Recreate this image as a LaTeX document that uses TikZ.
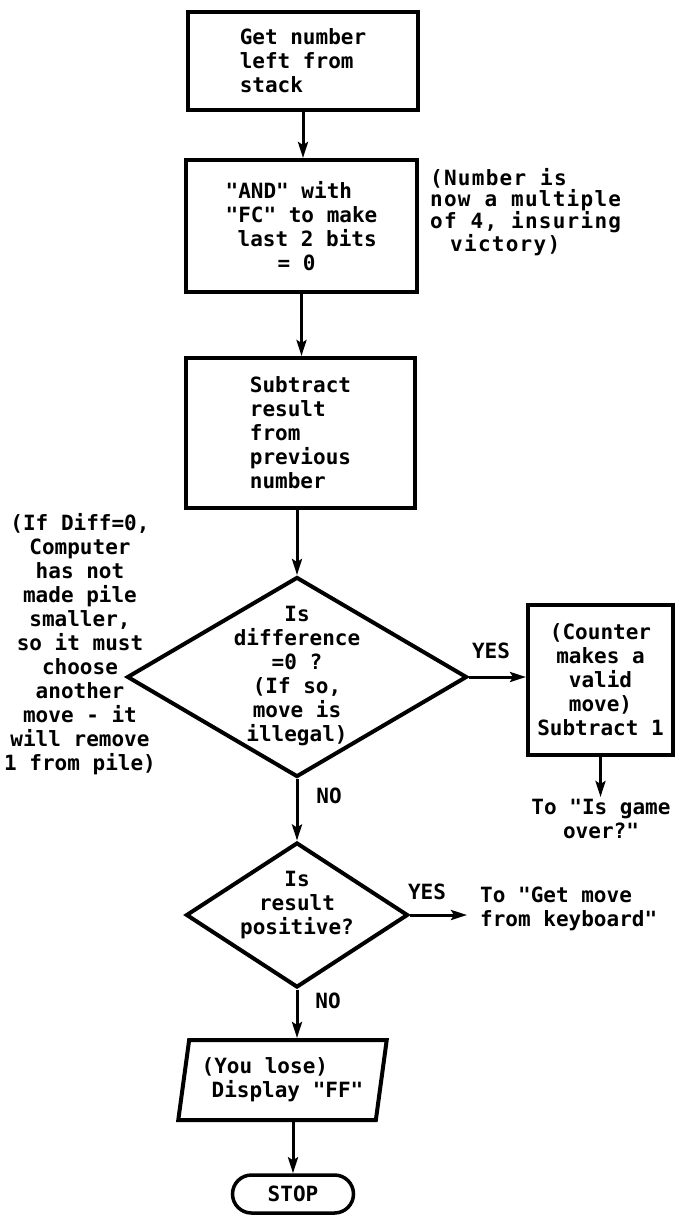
\documentclass[tikz,border=0pt]{standalone}
\usepackage{fontspec}
\setmonofont{DejaVu Sans Mono}
\newfontfamily\widemono{DejaVu Sans Mono}[LetterSpace=6]
\usetikzlibrary{arrows.meta,shapes.geometric,shapes.misc}
\begin{document}
\begin{tikzpicture}[x=1pt,y=-1pt,
  every node/.style={font=\fontsize{21}{24}\selectfont\ttfamily\bfseries, inner sep=0pt},
  procbox/.style={draw, rectangle, line width=4pt},
  decis/.style={draw, diamond, line width=4pt, inner sep=0pt},
  flow/.style={line width=3pt, -{Stealth[length=16pt,width=10pt,inset=3pt]}}]
\useasboundingbox (0,0) rectangle (678,1217);
\fill[white] (0,0) rectangle (678,1217);

\node[procbox, minimum width=230pt, minimum height=98pt, align=left] (b1) at (303,61)
  {Get number\\left from\\stack};
\node[procbox, minimum width=231pt, minimum height=132pt, align=left] (b2) at (301.5,226)
  {"AND" with\\"FC" to make\\\hspace*{12pt}last 2 bits\\\hspace*{52pt}= 0};
\node[align=left, anchor=west, font=\fontsize{21}{20.5}\selectfont\widemono\bfseries] (n2) at (430,212)
  {(Number is\\now a multiple\\of 4, insuring\\\hspace*{20pt}victory)};
\node[procbox, minimum width=229pt, minimum height=150pt, align=left] (b3) at (300.5,433)
  {Subtract\\result\\from\\previous\\number};

\node[decis, minimum width=340pt, minimum height=200pt] (d1) at (297,677) {};
\node[align=center] (d1t) at (297,676) {Is\\difference\\=0 ?\\(If so,\\move is\\illegal)};
\node[align=center] (n1) at (80,644)
  {(If Diff=0,\\Computer\\has not\\made pile\\smaller,\\so it must\\choose\\another\\move - it\\will remove\\1 from pile)};

\node[procbox, minimum width=145pt, minimum height=150pt, align=center] (b4) at (600.5,680)
  {(Counter\\makes a\\valid\\move)\\Subtract 1};
\node (yes1) at (491,651) {YES};
\coordinate (c1) at (600.5,797);
\node[align=center] (t1) at (601,819) {To "Is game\\over?"};

\node[decis, minimum width=222pt, minimum height=145pt] (d2) at (297,915) {};
\node[align=center] (d2t) at (297,905) {Is\\result\\positive?};
\node (no1) at (329,796) {NO};
\node (yes2) at (427,892) {YES};
\coordinate (c2) at (467,915);
\node[align=left, anchor=west] (t2) at (480,909) {To "Get move\\from keyboard"};

\node[draw, trapezium, trapezium left angle=78, trapezium right angle=102, trapezium stretches=true,
  minimum width=209pt, minimum height=80pt, line width=4pt, align=left] (p) at (282.5,1080)
  {(You lose)\\\hspace*{10pt}Display "FF"};
\node (no2) at (328,1001) {NO};
\node[draw, rounded rectangle, line width=3.5pt, minimum width=121pt, minimum height=38pt] (stop) at (293,1194) {STOP};

\draw[flow] (b1.south) -- (b1.south |- b2.north);
\draw[flow] (b2.south) -- (b2.south |- b3.north);
\draw[flow] (b3.south -| d1.north) -- (d1.north);
\draw[flow] (d1.east) -- (b4.west |- d1.east);
\draw[flow] (b4.south) -- (c1);
\draw[flow] (d1.south) -- (d2.north);
\draw[flow] (d2.east) -- (c2);
\draw[flow] (d2.south) -- (d2.south |- p.north);
\draw[flow] (stop.north |- p.south) -- (stop.north);
\end{tikzpicture}
\end{document}
